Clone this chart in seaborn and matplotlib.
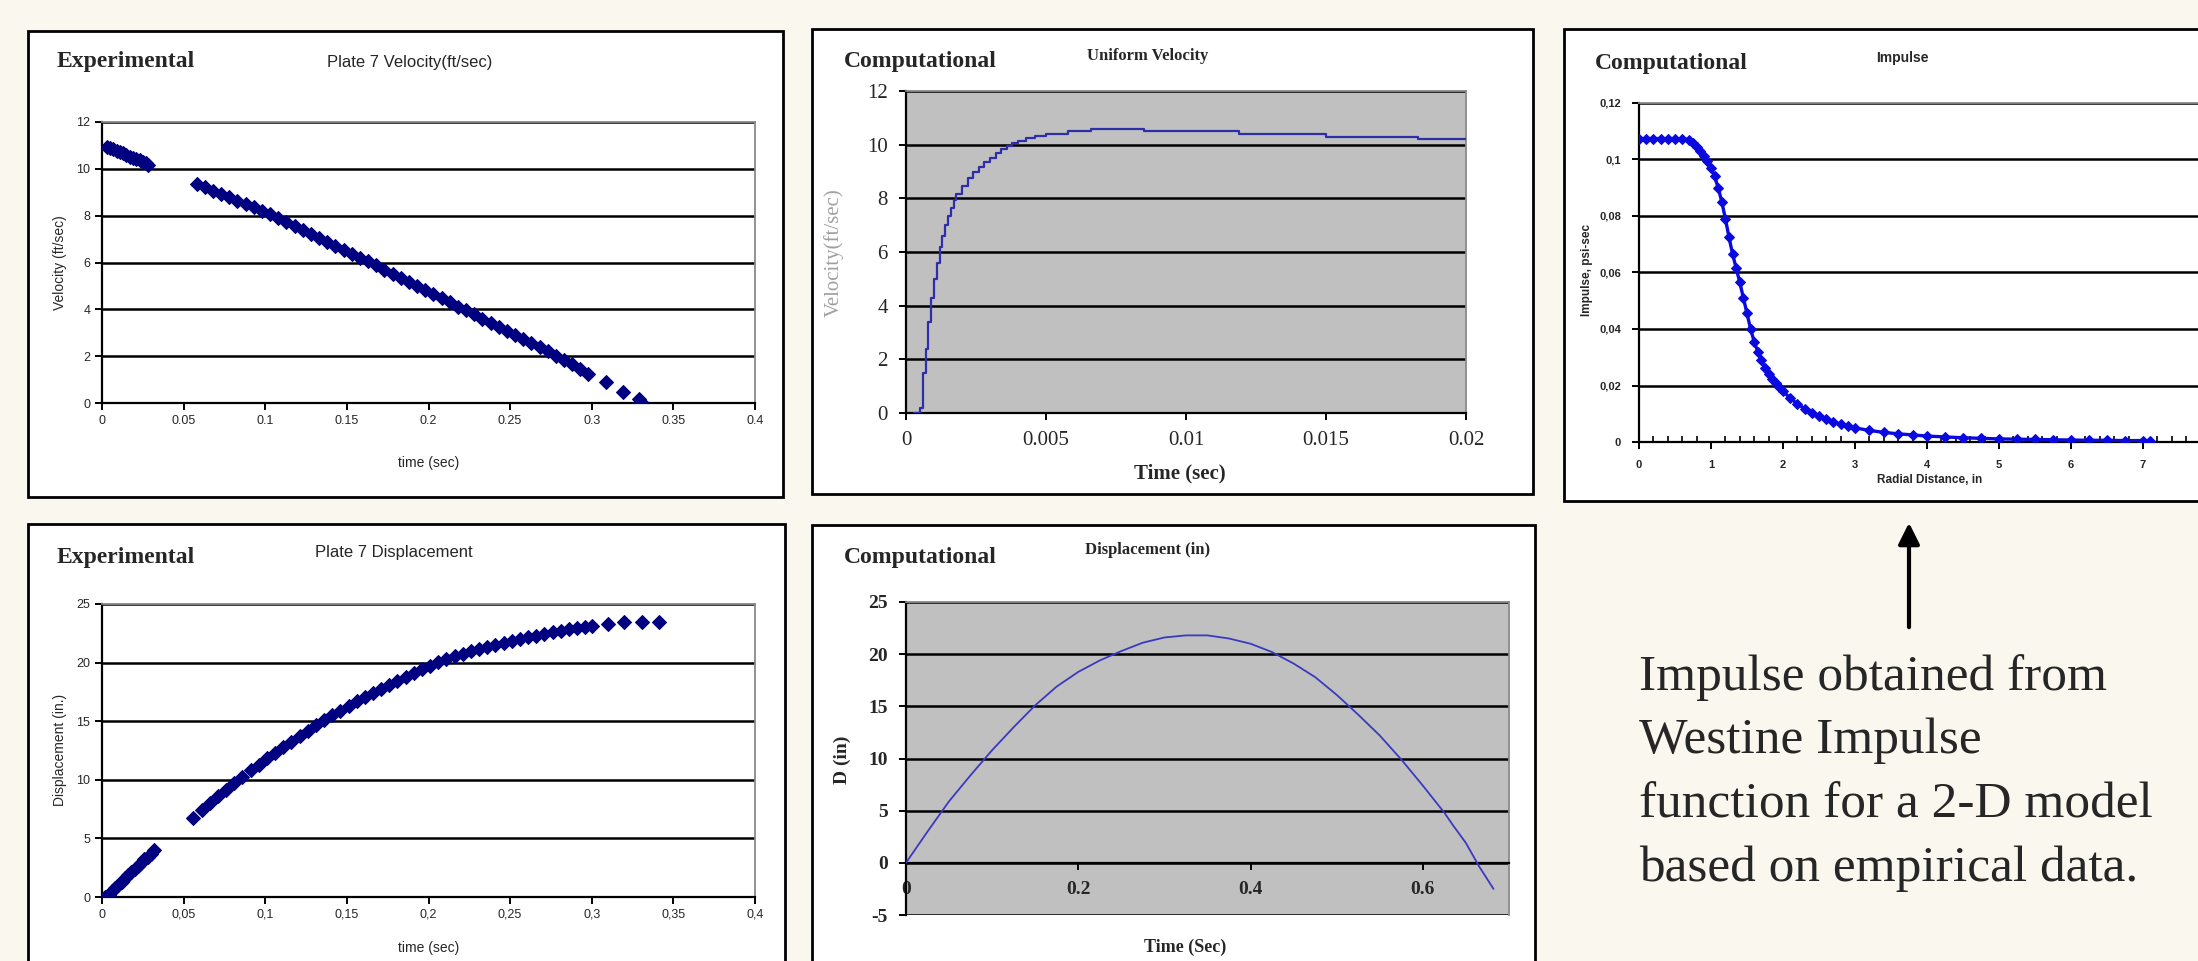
import numpy as np
import pandas as pd
import matplotlib
matplotlib.use("Agg")
import matplotlib.pyplot as plt
import seaborn as sns
from matplotlib.patches import Rectangle, FancyArrowPatch

# ---------- Données ----------
# Plate 7 - vitesse expérimentale (ft/sec)
vel_exp_t = [0.003, 0.005, 0.007, 0.009, 0.011, 0.013, 0.015, 0.017, 0.019, 0.021, 0.023, 0.025, 0.027, 0.028,
             0.058, 0.063, 0.068, 0.073, 0.078, 0.083, 0.088, 0.093, 0.098, 0.103, 0.108, 0.113, 0.118, 0.123,
             0.128, 0.133, 0.138, 0.143, 0.148, 0.153, 0.158, 0.163, 0.168, 0.173, 0.178, 0.183, 0.188, 0.193,
             0.198, 0.203, 0.208, 0.213, 0.218, 0.223, 0.228, 0.233, 0.238, 0.243, 0.248, 0.253, 0.258, 0.263,
             0.268, 0.273, 0.278, 0.283, 0.288, 0.293, 0.298, 0.309, 0.319, 0.329, 0.330]
vel_exp_v = [10.95, 10.9, 10.83, 10.78, 10.7, 10.66, 10.6, 10.52, 10.48, 10.42, 10.36, 10.3, 10.24, 10.18,
             9.35, 9.22, 9.07, 8.93, 8.79, 8.64, 8.50, 8.35, 8.20, 8.05, 7.89, 7.72, 7.56, 7.39,
             7.22, 7.06, 6.89, 6.72, 6.55, 6.38, 6.21, 6.05, 5.88, 5.70, 5.52, 5.35, 5.17, 5.00,
             4.82, 4.65, 4.47, 4.30, 4.12, 3.96, 3.78, 3.60, 3.42, 3.25, 3.07, 2.90, 2.72, 2.55,
             2.38, 2.20, 2.02, 1.84, 1.65, 1.45, 1.22, 0.88, 0.47, 0.15, 0.05]

# Plate 7 - déplacement expérimental (in)
disp_exp_t = [0.002, 0.004, 0.006, 0.008, 0.010, 0.012, 0.014, 0.016, 0.018, 0.020, 0.022, 0.024, 0.026, 0.028,
              0.030, 0.032,
              0.056, 0.061, 0.066, 0.071, 0.076, 0.081, 0.086, 0.091, 0.096, 0.101, 0.106, 0.111, 0.116, 0.121,
              0.126, 0.131, 0.136, 0.141, 0.146, 0.151, 0.156, 0.161, 0.166, 0.171, 0.176, 0.181, 0.186, 0.191,
              0.196, 0.201, 0.206, 0.211, 0.216, 0.221, 0.226, 0.231, 0.236, 0.241, 0.246, 0.251, 0.256, 0.261,
              0.266, 0.271, 0.276, 0.281, 0.286, 0.291, 0.296, 0.300, 0.310, 0.320, 0.331, 0.341]
disp_exp_d = [0.0, 0.2, 0.5, 0.8, 1.05, 1.3, 1.6, 1.85, 2.1, 2.4, 2.65, 2.9, 3.2, 3.45, 3.7, 3.98,
              6.73, 7.4, 8.0, 8.6, 9.15, 9.7, 10.25, 10.8, 11.3, 11.85, 12.3, 12.8, 13.25, 13.75,
              14.2, 14.65, 15.1, 15.5, 15.9, 16.3, 16.7, 17.05, 17.4, 17.75, 18.1, 18.45, 18.8, 19.1,
              19.45, 19.75, 20.05, 20.3, 20.55, 20.75, 20.95, 21.15, 21.35, 21.5, 21.7, 21.85, 22.0, 22.15,
              22.3, 22.45, 22.6, 22.72, 22.85, 22.95, 23.05, 23.15, 23.3, 23.45, 23.5, 23.45]

# Vitesse uniforme calculée
vel_comp_t = [0.0003, 0.0005, 0.0006, 0.0007, 0.0008, 0.0009, 0.0010, 0.0011, 0.0012, 0.0013, 0.0014, 0.0015,
              0.0016, 0.0017, 0.0018, 0.0020, 0.0022, 0.0024, 0.0026, 0.0028, 0.0030, 0.0032, 0.0034, 0.0036,
              0.0038, 0.0040, 0.0043, 0.0046, 0.0050, 0.0058, 0.0066, 0.0085, 0.0119, 0.0150, 0.0183, 0.0200]
vel_comp_v = [0.0, 0.2, 1.5, 2.4, 3.4, 4.3, 5.0, 5.6, 6.2, 6.6, 7.0, 7.35,
              7.65, 7.95, 8.15, 8.45, 8.75, 8.98, 9.18, 9.36, 9.52, 9.68, 9.83, 9.95,
              10.05, 10.14, 10.25, 10.33, 10.4, 10.5, 10.6, 10.52, 10.4, 10.3, 10.2, 10.2]

# Impulse (Westine)
imp_r = [0.0, 0.1, 0.2, 0.3, 0.4, 0.5, 0.6, 0.7, 0.75, 0.8, 0.85, 0.9, 0.95, 1.0, 1.05, 1.1, 1.15, 1.2,
         1.25, 1.3, 1.35, 1.4, 1.45, 1.5, 1.55, 1.6, 1.65, 1.7, 1.75, 1.8, 1.85, 1.9, 1.95, 2.0, 2.1, 2.2,
         2.3, 2.4, 2.5, 2.6, 2.7, 2.8, 2.9, 3.0, 3.2, 3.4, 3.6, 3.8, 4.0, 4.25, 4.5, 4.75, 5.0, 5.25, 5.5,
         5.75, 6.0, 6.25, 6.5, 6.75, 7.0, 7.1]
imp_i = [0.1074, 0.1074, 0.1074, 0.1074, 0.1074, 0.1074, 0.1073, 0.1070, 0.1060, 0.1045, 0.1030, 0.1012,
         0.0995, 0.0970, 0.0940, 0.0900, 0.0850, 0.0790, 0.0725, 0.0665, 0.0615, 0.0565, 0.0510, 0.0455,
         0.0400, 0.0355, 0.0320, 0.0290, 0.0262, 0.0240, 0.0222, 0.0208, 0.0195, 0.0180, 0.0155, 0.0135,
         0.0118, 0.0104, 0.0092, 0.0081, 0.0071, 0.0063, 0.0056, 0.0050, 0.0041, 0.0034, 0.0029, 0.0025,
         0.0021, 0.0018, 0.0015, 0.0013, 0.0011, 0.0010, 0.0009, 0.0008, 0.0007, 0.0006, 0.0006, 0.0005,
         0.0005, 0.0005]

# Déplacement calculé (in)
disp_comp_t = [0.000, 0.025, 0.050, 0.075, 0.100, 0.125, 0.150, 0.175, 0.200, 0.225, 0.250, 0.275, 0.300,
               0.325, 0.350, 0.375, 0.400, 0.425, 0.450, 0.475, 0.500, 0.525, 0.550, 0.575, 0.600, 0.625,
               0.635, 0.650, 0.665, 0.682]
disp_comp_d = [0.0, 3.0, 5.9, 8.4, 10.8, 13.0, 15.1, 16.9, 18.3, 19.4, 20.3, 21.1, 21.6,
               21.8, 21.8, 21.5, 21.0, 20.2, 19.1, 17.8, 16.1, 14.2, 12.2, 9.9, 7.4, 4.8,
               3.6, 1.9, -0.3, -2.5]

# Libellés des graduations
vel_xticklabels = ["0", "0.05", "0.1", "0.15", "0.2", "0.25", "0.3", "0.35", "0.4"]
disp_xticklabels = ["0", "0,05", "0,1", "0,15", "0,2", "0,25", "0,3", "0,35", "0,4"]
imp_xticklabels = ["0", "1", "2", "3", "4", "5", "6", "7", ""]
imp_yticklabels = ["0", "0,02", "0,04", "0,06", "0,08", "0,1", "0,12"]
note_lines = ["Impulse obtained from", "Westine Impulse", "function for a 2-D model", "based on empirical data."]

# ---------- Mise en page ----------
sns.set_style("white")
plt.rcParams["font.family"] = ["Liberation Sans", "DejaVu Sans"]

W, H = 2198, 961
BG = "#FAF7EF"
GREY_FACE = "#C0C0C0"
fig = plt.figure(figsize=(W / 100, H / 100), dpi=100)
fig.patch.set_facecolor(BG)
SERIF = ["Liberation Serif", "DejaVu Serif"]


def frame(l, t, r, b):
    """Cadre blanc autour d'un graphique (coordonnées en pixels)."""
    fig.add_artist(Rectangle((l / W, 1 - b / H), (r - l) / W, (b - t) / H, transform=fig.transFigure,
                             facecolor="white", edgecolor="black", lw=2, zorder=-1))


def px_axes(l, t, r, b, face="white"):
    ax = fig.add_axes([l / W, 1 - b / H, (r - l) / W, (b - t) / H])
    ax.set_facecolor(face)
    return ax


def txt(x, y, s, **kw):
    fig.text(x / W, 1 - y / H, s, **kw)


def excel_style(ax, grid_lw=1.8):
    ax.yaxis.grid(True, color="black", lw=grid_lw)
    ax.xaxis.grid(False)
    for side in ["top", "right"]:
        ax.spines[side].set_color("#8A8A8A")
        ax.spines[side].set_linewidth(1.3)
    for side in ["left", "bottom"]:
        ax.spines[side].set_color("black")
        ax.spines[side].set_linewidth(1.6)
    ax.tick_params(axis="both", direction="out", length=5, width=1.4, color="black",
                   bottom=True, left=True, top=False, right=False)
    ax.set_xlabel("")
    ax.set_ylabel("")


frame(28, 31, 783, 497)
frame(812, 29, 1533, 494)
frame(1564, 29, 2260, 501)
frame(28, 524, 785, 1000)
frame(812, 525, 1535, 1000)

# ---------- 1. Vitesse expérimentale ----------
ax1 = px_axes(102, 122, 755, 403)
sns.scatterplot(x=vel_exp_t, y=vel_exp_v, ax=ax1, marker="D", s=50, color="#000080",
                edgecolor="#000080", linewidth=0.8, zorder=3)
ax1.set_xlim(0, 0.4)
ax1.set_ylim(0, 12)
ax1.set_xticks(np.arange(0, 0.41, 0.05))
ax1.set_xticklabels(vel_xticklabels, fontsize=9)
ax1.set_yticks(range(0, 13, 2))
ax1.set_yticklabels([str(v) for v in range(0, 13, 2)], fontsize=9)
excel_style(ax1)
txt(57, 62, "Experimental", fontsize=17, fontweight="bold", family=SERIF, va="center")
txt(410, 62, "Plate 7 Velocity(ft/sec)", fontsize=12, ha="center", va="center")
txt(429, 463, "time (sec)", fontsize=10, ha="center", va="center")
txt(60, 263, "Velocity (ft/sec)", fontsize=10, ha="center", va="center", rotation=90)

# ---------- 2. Vitesse uniforme calculée ----------
ax2 = px_axes(906, 91, 1466, 413, face=GREY_FACE)
sns.lineplot(x=vel_comp_t, y=vel_comp_v, ax=ax2, color="#2E2EA8", lw=1.6, drawstyle="steps-post",
             zorder=3)
ax2.set_xlim(0, 0.02)
ax2.set_ylim(0, 12)
ax2.set_xticks([0, 0.005, 0.01, 0.015, 0.02])
ax2.set_xticklabels(["0", "0.005", "0.01", "0.015", "0.02"], fontsize=15, family=SERIF)
ax2.set_yticks(range(0, 13, 2))
ax2.set_yticklabels([str(v) for v in range(0, 13, 2)], fontsize=15, family=SERIF)
excel_style(ax2)
ax2.tick_params(axis="both", pad=8)
txt(844, 62, "Computational", fontsize=17, fontweight="bold", family=SERIF, va="center")
txt(1148, 56, "Uniform Velocity", fontsize=12, fontweight="bold", family=SERIF, ha="center", va="center")
txt(1180, 473, "Time (sec)", fontsize=15, fontweight="bold", family=SERIF, ha="center", va="center")
txt(834, 253, "Velocity(ft/sec)", fontsize=15, family=SERIF, color="#A0A0A0", ha="center", va="center",
    rotation=90)

# ---------- 3. Impulse ----------
ax3 = px_axes(1639, 103, 2215, 442)
sns.lineplot(x=imp_r, y=imp_i, ax=ax3, color="#0A0AE0", lw=2.4, marker="D", markersize=5,
             markeredgecolor="#0A0AE0", zorder=3)
ax3.set_xlim(0, 8)
ax3.set_ylim(0, 0.12)
ax3.set_xticks(range(0, 9))
ax3.set_xticklabels(imp_xticklabels, fontsize=8, fontweight="bold")
ax3.set_xticks(np.arange(0, 8.01, 0.2), minor=True)
ax3.set_yticks(np.arange(0, 0.121, 0.02))
ax3.set_yticklabels(imp_yticklabels, fontsize=8, fontweight="bold")
excel_style(ax3)
ax3.tick_params(axis="x", which="minor", direction="in", length=4, width=1.4, bottom=True)
ax3.tick_params(axis="both", pad=8)
txt(1595, 64, "Computational", fontsize=17, fontweight="bold", family=SERIF, va="center")
txt(1902, 58, "Impulse", fontsize=10, fontweight="bold", ha="center", va="center")
txt(1930, 480, "Radial Distance, in", fontsize=8.5, fontweight="bold", ha="center", va="center")
txt(1587, 270, "Impulse, psi-sec", fontsize=8.5, fontweight="bold", ha="center", va="center", rotation=90)

# ---------- 4. Déplacement expérimental ----------
ax4 = px_axes(102, 604, 755, 897)
sns.scatterplot(x=disp_exp_t, y=disp_exp_d, ax=ax4, marker="D", s=50, color="#000080",
                edgecolor="#000080", linewidth=0.8, zorder=3)
ax4.set_xlim(0, 0.4)
ax4.set_ylim(0, 25)
ax4.set_xticks(np.arange(0, 0.41, 0.05))
ax4.set_xticklabels(disp_xticklabels, fontsize=9)
ax4.set_yticks(range(0, 26, 5))
ax4.set_yticklabels([str(v) for v in range(0, 26, 5)], fontsize=9)
excel_style(ax4)
txt(57, 557, "Experimental", fontsize=17, fontweight="bold", family=SERIF, va="center")
txt(394, 552, "Plate 7 Displacement", fontsize=12, ha="center", va="center")
txt(429, 948, "time (sec)", fontsize=10, ha="center", va="center")
txt(60, 750, "Displacement (in.)", fontsize=10, ha="center", va="center", rotation=90)

# ---------- 5. Déplacement calculé ----------
ax5 = px_axes(906, 602, 1509, 915, face=GREY_FACE)
sns.lineplot(x=disp_comp_t, y=disp_comp_d, ax=ax5, color="#3A3AC0", lw=1.3, zorder=3)
excel_style(ax5)
# l'axe des x croise à 0 (comme Excel) : à faire avant de formater les graduations
ax5.spines["bottom"].set_position(("data", 0))
ax5.set_xlim(0, 0.7)
ax5.set_ylim(-5, 25)
ax5.set_xticks([0, 0.2, 0.4, 0.6])
ax5.set_xticklabels(["0", "0.2", "0.4", "0.6"], fontsize=14, fontweight="bold", family=SERIF)
ax5.set_yticks(range(-5, 26, 5))
ax5.set_yticklabels([str(v) for v in range(-5, 26, 5)], fontsize=14, fontweight="bold", family=SERIF)
ax5.tick_params(axis="both", direction="out", length=5, width=1.4, color="black", pad=8,
                bottom=True, left=True, top=False, right=False)
txt(844, 558, "Computational", fontsize=17, fontweight="bold", family=SERIF, va="center")
txt(1148, 550, "Displacement (in)", fontsize=12, fontweight="bold", family=SERIF, ha="center", va="center")
txt(1185, 947, "Time (Sec)", fontsize=13, fontweight="bold", family=SERIF, ha="center", va="center")
txt(842, 760, "D (in)", fontsize=14, fontweight="bold", family=SERIF, ha="center", va="center", rotation=90)

# ---------- Flèche et commentaire ----------
fig.add_artist(FancyArrowPatch((1909 / W, 1 - 630 / H), (1909 / W, 1 - 520 / H), transform=fig.transFigure,
                               arrowstyle="-|>", mutation_scale=32, lw=3, color="black"))
for i, line in enumerate(note_lines):
    txt(1639, 690 + i * 63.5, line, fontsize=37, family=SERIF, va="baseline")

plt.savefig("out.png", dpi=100, facecolor=fig.get_facecolor())
